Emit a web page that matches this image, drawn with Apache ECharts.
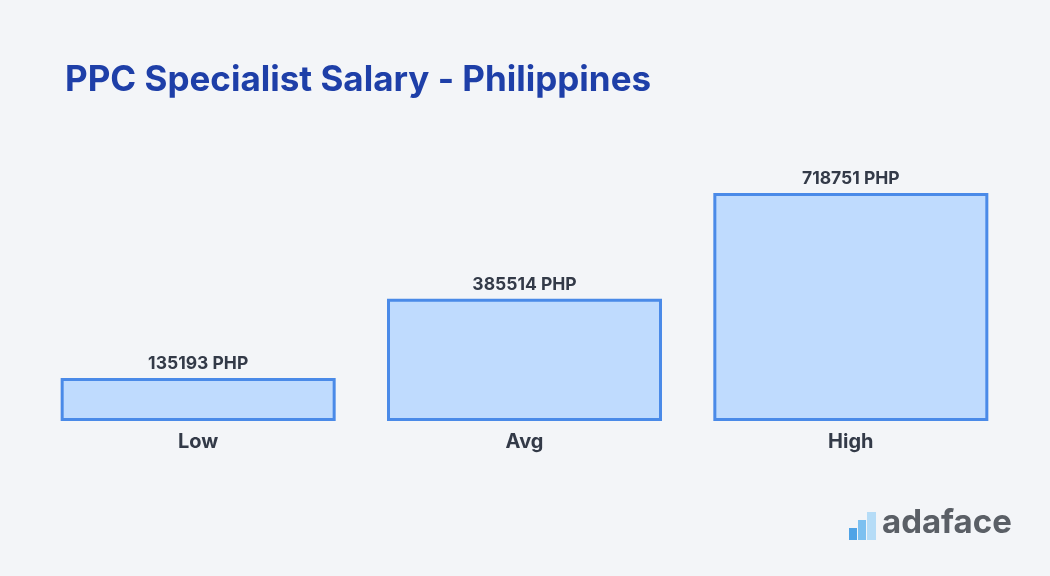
<!DOCTYPE html>
<html><head><meta charset="utf-8">
<script src="https://cdn.jsdelivr.net/npm/echarts@6/dist/echarts.min.js"></script>
<style>html,body{margin:0;padding:0;background:#f3f5f8}#c{width:1050px;height:576px}</style>
</head><body><div id="c"></div>
<script>
const categories = ['Low', 'Avg', 'High'];
const values = [135193, 385514, 718751];
const unit = ' PHP';
const chart = echarts.init(document.getElementById('c'));
chart.setOption({
  backgroundColor: '#f3f5f8',
  title: { text: 'PPC Specialist Salary - Philippines', left: 60, top: 58,
    textStyle: { fontFamily: 'Inter', fontWeight: 'bold', fontSize: 35, color: '#1e3fa8' } },
  grid: { left: 35, right: 36, top: 193, bottom: 155 },
  xAxis: { type: 'category', data: categories,
    axisLine: { show: false }, axisTick: { show: false },
    axisLabel: { margin: 11, fontFamily: 'Inter', fontWeight: 'bold', fontSize: 20, color: '#333a48' } },
  yAxis: { type: 'value', min: 0, max: 718751, show: false, splitLine: { show: false } },
  series: [{ type: 'bar', data: values, barWidth: 275,
    itemStyle: { color: '#bfdbfe', borderColor: '#4a8ae8', borderWidth: 3 },
    label: { show: true, position: 'top', distance: 5, formatter: p => p.value + unit,
      fontFamily: 'Inter', fontWeight: 'bold', fontSize: 17.5, color: '#333a48' } }],
  graphic: [
    { type: 'rect', shape: { x: 849, y: 528, width: 8, height: 12 }, style: { fill: '#4fa3e6' } },
    { type: 'rect', shape: { x: 858, y: 520, width: 8, height: 20 }, style: { fill: '#7cc0f0' } },
    { type: 'rect', shape: { x: 867, y: 512, width: 9, height: 28 }, style: { fill: '#b5dcf7' } },
    { type: 'text', left: 882, top: 507, style: { text: 'adaface', fontFamily: 'Inter', fontWeight: 'bold', fontSize: 33, fill: '#5a5f66' } }
  ]
});
</script></body></html>
